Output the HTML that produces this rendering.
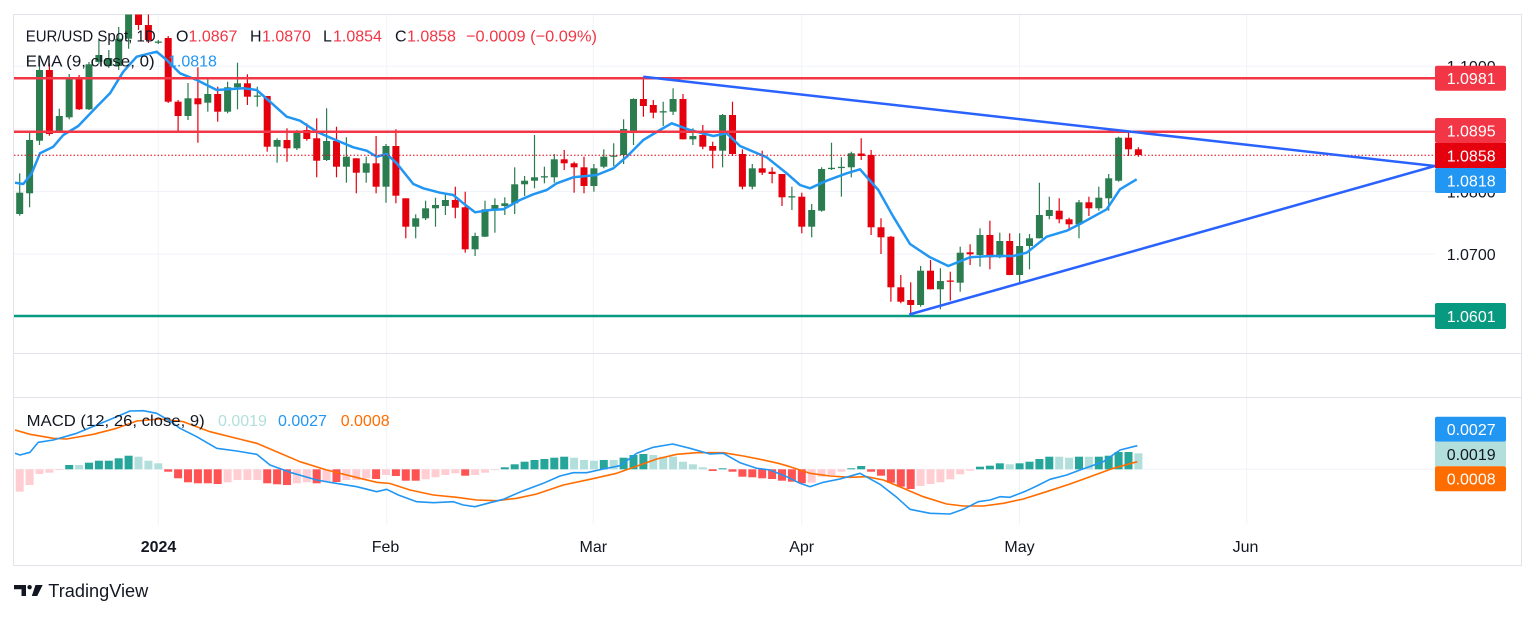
<!DOCTYPE html>
<html><head><meta charset="utf-8">
<style>
html,body{margin:0;padding:0;background:#fff;}
svg{display:block;}
text{font-family:"Liberation Sans",Arial,sans-serif;}
</style></head>
<body>
<svg width="1536" height="617" viewBox="0 0 1536 617" xmlns="http://www.w3.org/2000/svg">
<defs>
<clipPath id="cm"><rect x="14" y="14.5" width="1421" height="338.5"/></clipPath>
<clipPath id="cd"><rect x="14" y="398" width="1421" height="127"/></clipPath>
</defs>
<rect x="0" y="0" width="1536" height="617" fill="#fff"/>

<!-- grid -->
<g stroke="#f0f3fa" stroke-width="1">
<line x1="14" x2="1435" y1="66.3" y2="66.3"/>
<line x1="14" x2="1435" y1="129" y2="129"/>
<line x1="14" x2="1435" y1="191.5" y2="191.5"/>
<line x1="14" x2="1435" y1="254" y2="254"/>
<line x1="14" x2="1435" y1="316.6" y2="316.6"/>
<line x1="14" x2="1435" y1="469.3" y2="469.3"/>
<line x1="158.3" x2="158.3" y1="14" y2="525"/>
<line x1="386.7" x2="386.7" y1="14" y2="525"/>
<line x1="593.3" x2="593.3" y1="14" y2="525"/>
<line x1="801.7" x2="801.7" y1="14" y2="525"/>
<line x1="1019.5" x2="1019.5" y1="14" y2="525"/>
<line x1="1246.7" x2="1246.7" y1="14" y2="525"/>
</g>

<!-- frame -->
<g stroke="#e0e3eb" stroke-width="1" fill="none">
<rect x="13.5" y="14.5" width="1508" height="551"/>
<line x1="14" x2="1521.5" y1="353.5" y2="353.5"/>
<line x1="14" x2="1521.5" y1="397.5" y2="397.5"/>
</g>

<!-- main pane -->
<g clip-path="url(#cm)">
<g id="candles"></g>
<polyline fill="none" stroke="#2196f3" stroke-width="2.5" stroke-linejoin="round" points="15,182.7 23.3,184 31.7,173.3 40,153.3 53.3,146.7 63.3,135 78.3,126 96.7,106.7 110,93.3 123.3,71.7 136.7,56.7 156.7,51.7 166.7,60 180,73.3 196.7,80 216.7,90 243.3,88.3 256.7,90 270,101.7 286.7,116.7 300,120.7 316.7,131.7 333.3,139 353.3,147.3 366.7,150.7 376.7,156.7 386.7,154 396.7,163.3 413.3,184 423.3,188.3 440,192.7 453.3,195 463.3,203.3 475,212.3 490,210 503.3,209.3 520,200 533.3,194.3 546.7,190 556.7,183.3 573.3,177.3 596.7,175 613.3,168.3 626.7,156.7 643.3,140 660,130 671.7,123.3 690,130 713.3,136 726.7,133.3 740,146 766.7,157.3 786.7,173.3 800,185 810,188.3 826.7,180.7 846.7,173.3 860,169.3 878.3,190 893.3,216.7 910,244 930,257.3 948.3,266 970,257.3 990,256 1013.3,256 1026.7,252.7 1046.7,236.7 1066.7,230.7 1080,224 1106.7,209.3 1120,189.3 1136.7,179.3"/>
<line x1="14" x2="1435" y1="155.3" y2="155.3" stroke="#e5000e" stroke-width="1" stroke-dasharray="1.5,2"/>
<line x1="14" x2="1435" y1="78.3" y2="78.3" stroke="#f23645" stroke-width="2.5"/>
<line x1="14" x2="1435" y1="131.7" y2="131.7" stroke="#f23645" stroke-width="2.5"/>
<line x1="14" x2="1435" y1="316" y2="316" stroke="#089981" stroke-width="2.5"/>
<line x1="643.3" y1="76.7" x2="1435" y2="166" stroke="#2962ff" stroke-width="2.5"/>
<line x1="909.3" y1="314.5" x2="1435" y2="166" stroke="#2962ff" stroke-width="2.5"/>
</g>

<!-- header texts -->
<g font-size="16">
<text x="25.7" y="41.5" fill="#131722" textLength="130" lengthAdjust="spacingAndGlyphs">EUR/USD Spot, 1D</text>
<text x="176" y="41.5" fill="#131722">O</text><text x="188.5" y="41.5" fill="#f23645">1.0867</text>
<text x="250" y="41.5" fill="#131722">H</text><text x="262" y="41.5" fill="#f23645">1.0870</text>
<text x="323" y="41.5" fill="#131722">L</text><text x="333" y="41.5" fill="#f23645">1.0854</text>
<text x="395" y="41.5" fill="#131722">C</text><text x="407" y="41.5" fill="#f23645">1.0858</text>
<text x="466" y="41.5" fill="#f23645" textLength="131" lengthAdjust="spacingAndGlyphs">−0.0009 (−0.09%)</text>
<text x="25.7" y="66.5" fill="#131722" textLength="129" lengthAdjust="spacingAndGlyphs">EMA (9, close, 0)</text>
<text x="168" y="66.5" fill="#2196f3">1.0818</text>
</g>

<!-- price axis -->
<g font-size="16" fill="#131722">
<text x="1446.7" y="72">1.1000</text>
<text x="1446.7" y="135">1.0900</text>
<text x="1446.7" y="197.5">1.0800</text>
<text x="1446.7" y="260">1.0700</text>
<text x="1446.7" y="322">1.0600</text>
</g>
<g font-size="16">
<rect x="1435" y="65.7" width="71" height="25" rx="2" fill="#f23645"/>
<text x="1446.7" y="84" fill="#fff">1.0981</text>
<rect x="1435" y="118" width="71" height="25" rx="2" fill="#f23645"/>
<text x="1446.7" y="136.5" fill="#fff">1.0895</text>
<rect x="1435" y="143" width="71" height="25" fill="#e5000e"/>
<text x="1446.7" y="161.5" fill="#fff">1.0858</text>
<rect x="1435" y="168" width="71" height="25" rx="2" fill="#2196f3"/>
<text x="1446.7" y="186.5" fill="#fff">1.0818</text>
<rect x="1435" y="303" width="71" height="26" rx="2" fill="#089981"/>
<text x="1446.7" y="322" fill="#fff">1.0601</text>
</g>

<!-- MACD pane -->
<g clip-path="url(#cd)">
<g id="hist"></g>
<polyline fill="none" stroke="#ff6d00" stroke-width="1.6" stroke-linejoin="round" points="15,430 30,434.3 53.3,438.3 66.7,439 93.3,434.3 116.7,428.3 136.7,421 160,419 183.3,421.7 210,431.7 243.3,440 256.7,443.3 276.7,451.7 300,461.7 326.7,470 360,478.3 376.7,482.3 390,483.5 410,490 433.3,495 456.7,497.3 476.7,500 496.7,500.7 516.7,498.3 536.7,494 563.3,485 590,479.3 616.7,473.3 640,465 656.7,459 676.7,454.3 696.7,452.7 723.3,452.7 743.3,456 760,459.3 778.3,463.3 790,466.7 810,473.3 830,476 850,477.3 866.7,476.7 883.3,480 903.3,488.3 923.3,496.7 946.7,504 963.3,506 983.3,506 1003.3,503.3 1023.3,499 1043.3,492.7 1070,484 1090,476.7 1113.3,468.3 1137.3,461.7"/>
<polyline fill="none" stroke="#2196f3" stroke-width="1.6" stroke-linejoin="round" points="15,453.3 20,455 30,452.3 38.3,442.3 53.3,440 65,436.7 76.7,433.3 96.7,425 116.7,416.7 130,411 143.3,410.7 156.7,413.3 170,421 180,428.3 196.7,436.7 216.7,448.3 236.7,451 256.7,454.3 270,465 290,472.3 316.7,480 330,482.3 356.7,486.7 376.7,491.7 386.7,489.3 398.3,495 416.7,501.7 433.3,502.7 453.3,501.7 463.3,505 475,506.7 490,502.7 503.3,499.3 523.3,490.7 543.3,483.3 560,476 573.3,472.7 586.7,472.7 603.3,469 620,465.7 636.7,453.3 653.3,447.3 672.7,444 690,448.3 710,454 723.3,453.3 740,462.7 756.7,468.3 770,470 786.7,476.7 800,483.3 810,486.7 823.3,482.3 840,479 860,473.3 880,484.3 896.7,497.3 910,509.3 930,513.3 950,514 963.3,509.3 978.3,501.7 990,500 1000,496.7 1010,497.3 1026.7,490.7 1036.7,486 1050,479.3 1066.7,475 1080,470 1103.3,461.7 1120,450 1137.3,445.7"/>
</g>
<g font-size="16">
<text x="26.7" y="426" fill="#131722" textLength="178" lengthAdjust="spacingAndGlyphs">MACD (12, 26, close, 9)</text>
<text x="218" y="426" fill="#b2dfdb">0.0019</text>
<text x="278" y="426" fill="#2196f3">0.0027</text>
<text x="340.7" y="426" fill="#ff6d00">0.0008</text>
<rect x="1435" y="416.7" width="71" height="25" rx="2" fill="#2196f3"/>
<text x="1446.7" y="435" fill="#fff">0.0027</text>
<rect x="1435" y="441.7" width="71" height="24.5" fill="#b2dfdb"/>
<text x="1446.7" y="460" fill="#131722">0.0019</text>
<rect x="1435" y="466.2" width="71" height="25" rx="2" fill="#ff6d00"/>
<text x="1446.7" y="484.5" fill="#fff">0.0008</text>
</g>

<!-- time axis -->
<g font-size="16" fill="#131722" text-anchor="middle">
<text x="158.5" y="552" font-weight="bold">2024</text>
<text x="385.5" y="552">Feb</text>
<text x="593.3" y="552">Mar</text>
<text x="801.7" y="552">Apr</text>
<text x="1019.5" y="552">May</text>
<text x="1245.5" y="552">Jun</text>
</g>

<!-- logo -->
<g fill="#131722">
<path d="M14 585 H26 V596 H21.5 V589.2 H14 Z"/>
<circle cx="29.6" cy="587.2" r="2.2"/>
<path d="M35.5 585 H42.7 L37.2 596 H31.8 Z"/>
</g>
<text x="48.3" y="597" font-size="18" fill="#131722" textLength="100" lengthAdjust="spacingAndGlyphs">TradingView</text>
</svg>

<script>
(function(){
var NS="http://www.w3.org/2000/svg";
function X(k){return 158.3+k*9.9;}
var C=[
[-14,'g',173.3,192.7,214,215.7],[-13,'g',130.7,140,193.3,207.3],[-12,'g',60,70,140.7,145],[-11,'r',63.3,70,134,135.7],
[-10,'g',108.7,116,132.7,133],[-9,'g',74,78.3,117.3,119.3],[-8,'r',75,78.3,109.3,110],[-7,'g',62,64.3,109.3,110],
[-6,'g',40,55,62,64],[-5,'g',50,58,66,68],[-4,'g',27,38.7,66,70],[-3,'g',5,12,38.7,48.7],[-2,'r',5,12,25,30],[-1,'r',14,25,40,43],
[0,'g',40,41.5,42.5,44],[1,'r',36,38,101.7,103],[2,'r',100,101.7,116,131.7],[3,'g',83,98.3,116,120],[4,'r',67.3,98.3,104.3,142.7],
[5,'g',79,94,102.7,111.7],[6,'r',86.7,94,111.7,121.7],[7,'g',81.7,87.3,111.7,113.3],[8,'g',62.7,83.3,87.3,109.3],[9,'r',74.3,83.3,96.7,105],
[10,'g',86.7,95.5,96.5,106.7],[11,'r',96,96,146.7,151.7],[12,'g',138.3,140,146.7,162.7],[13,'r',128.3,140,148.3,161.7],[14,'g',130,131.7,148.3,150],
[15,'r',123.3,130,139,140.7],[16,'r',118.3,138.3,160.7,177.3],[17,'g',108.3,141,160,161],[18,'r',126.7,141,166.7,177.3],[19,'g',137.3,156.7,166.7,182.7],
[20,'r',158.3,158.3,172.7,193.3],[21,'g',156.7,163.3,172.7,182.7],[22,'r',136,163.3,186.7,193.3],[23,'g',144,146,186.7,202.7],[24,'r',129.3,146,195.7,203.3],
[25,'r',198.3,198.3,226.7,238.3],[26,'g',214.3,218.3,226.7,238.3],[27,'g',200.7,208.3,218.3,220],[28,'g',197.7,205,208.3,226.7],[29,'g',193.3,200,206,215],
[30,'r',186.7,200,207.7,218.3],[31,'r',191.7,207.3,249.3,252.7],[32,'g',232.7,236,249.3,256],[33,'g',200.7,209.3,236.7,237],[34,'g',198.3,205,209.3,232.7],
[35,'g',197.3,203.3,206,215],[36,'g',167.3,184.3,203.3,214],[37,'g',176,180.7,184.3,196],[38,'g',135,177.3,180.7,188.3],[39,'g',166.7,176.2,177.2,183.3],
[40,'g',154,159.3,177.3,182.7],[41,'r',150,159.3,163.3,170],[42,'r',161.7,163.3,167.3,192.7],[43,'r',156.7,167.3,186,193.3],[44,'g',164,168.3,186,191.7],
[45,'g',149.3,156.7,166.7,168.3],[46,'g',143.3,155.5,156.5,166],[47,'g',119.3,129,155,164],[48,'g',98.3,99,130.7,145],[49,'r',76.7,99,106,116.7],
[50,'r',100,105,112.7,118.3],[51,'g',101.7,111.2,112.2,126],[52,'g',88.3,99,111.7,115],[53,'r',94,99,139.3,139.5],[54,'g',128.3,136,139.3,145],
[55,'r',125,135,146.7,149.3],[56,'r',141.7,146,150.7,168.3],[57,'g',114,115,150.7,167.3],[58,'r',101.7,115,154,156],[59,'r',149.3,154,186.7,189.3],
[60,'g',164,168.3,186.7,189.3],[61,'r',150.7,168.3,172.7,175],[62,'r',167.3,171.7,174,183.3],[63,'r',174,174,197.3,206],[64,'g',186.7,196.2,197.2,210],
[65,'r',192.7,196.7,226.7,233.3],[66,'g',204,210,226.7,237.3],[67,'g',167.3,169,210.7,211.7],[68,'g',142.7,167.8,168.8,170],[69,'g',157.3,166.8,167.8,196.7],
[70,'g',151.7,153.3,167.3,177.3],[71,'r',138.3,153.5,156,160],[72,'r',150,155,227.3,235],[73,'r',218.3,227.3,237.3,254],[74,'r',236,236.7,287.3,301.7],
[75,'r',275,287.3,301.7,303.3],[76,'r',282.3,300,305,315],[77,'g',266,270.7,305,306.7],[78,'r',260,270.7,289.3,289.5],[79,'g',268.3,281,289.3,309.3],
[80,'r',271.7,280.5,281.5,300.7],[81,'g',246.7,252.7,282.7,291.7],[82,'r',244.3,252.3,254.3,265],[83,'g',228.3,235,255,266.7],[84,'r',220.7,235,257.3,269.3],
[85,'g',232.7,241,257.3,258.3],[86,'r',233.3,241,275,275.2],[87,'g',233.3,246,275,284],[88,'g',234,238.3,246,269.3],[89,'g',182.7,215,238.3,238.5],
[90,'g',196.7,210,216,219.3],[91,'r',198.3,210.7,219.3,223.3],[92,'r',217.7,219.3,224.3,231],[93,'g',200,202.3,224.3,238.3],[94,'r',196.7,202.3,208.3,216],
[95,'g',186.7,197.7,208.3,210.7],[96,'g',174,178.3,198.3,210.7],[97,'g',136.7,137.7,180.7,181.7],[98,'r',130.7,137.7,149.3,156],[99,'r',147.3,149.3,155,156.7]
];
var g=document.getElementById('candles');
C.forEach(function(c){
  var x=X(c[0]),col=c[1]=='g'?'#2b7d50':'#e5000e';
  var l=document.createElementNS(NS,'line');
  l.setAttribute('x1',x);l.setAttribute('x2',x);l.setAttribute('y1',c[2]);l.setAttribute('y2',c[5]);
  l.setAttribute('stroke',col);l.setAttribute('stroke-width','1.2');g.appendChild(l);
  var r=document.createElementNS(NS,'rect');
  r.setAttribute('x',x-3.5);r.setAttribute('y',c[3]);r.setAttribute('width',7);
  r.setAttribute('height',Math.max(c[4]-c[3],1.3));r.setAttribute('fill',col);g.appendChild(r);
});
var H="P491.7 P485 P474 P472.7 P470 G465 L465 G462.7 G460.7 G460.7 G458.3 G455.7 L456.7 L460.7 L463.3 R471.7 R478.3 R482.3 R483.3 R483.3 R484 P482.3 P480 P480 P480 R483.3 R484.3 R485 P483.3 P482.3 R483.3 P481 R482 P480 P480 P478.3 R479 P475 R476 R480.7 R480.7 P479.3 P477.3 P475 P473.3 R475.7 P475 P472.7 P470 G467.3 G464.3 G461.7 G460 G459 G457.7 G456.7 L457.7 L460 L460.7 G460 L460 G457.7 G455 G454 L455 L456.7 L456.7 L461.7 L464.3 L467.3 R471 G468.3 R471.7 R476.7 R477.3 R478.3 R479 R480.7 R481.7 R483.3 P482.7 P476.7 P475 P471.7 G468.3 G466 R471.7 R475.7 R482.7 R486.7 R489 P486 P484 P482.3 P479.3 P474.3 P470.7 G466.7 G465.7 G463.3 L464.3 G463.3 G461.7 G459 G456.7 L456.7 L457.7 G456.7 L456.7 G456.7 G455.7 G452 G452 L453.3".split(' ');
var cols={G:'#26a69a',L:'#b2dfdb',R:'#ff5252',P:'#ffcdd2'};
var hg=document.getElementById('hist'),z=469.3;
H.forEach(function(h,i){
  var k=i-14,y=parseFloat(h.slice(1)),x=X(k);
  var r=document.createElementNS(NS,'rect');
  r.setAttribute('x',x-4);r.setAttribute('width',8);
  r.setAttribute('y',Math.min(y,z));r.setAttribute('height',Math.max(Math.abs(y-z),0.8));
  r.setAttribute('fill',cols[h[0]]);hg.appendChild(r);
});
})();
</script>
</body></html>
